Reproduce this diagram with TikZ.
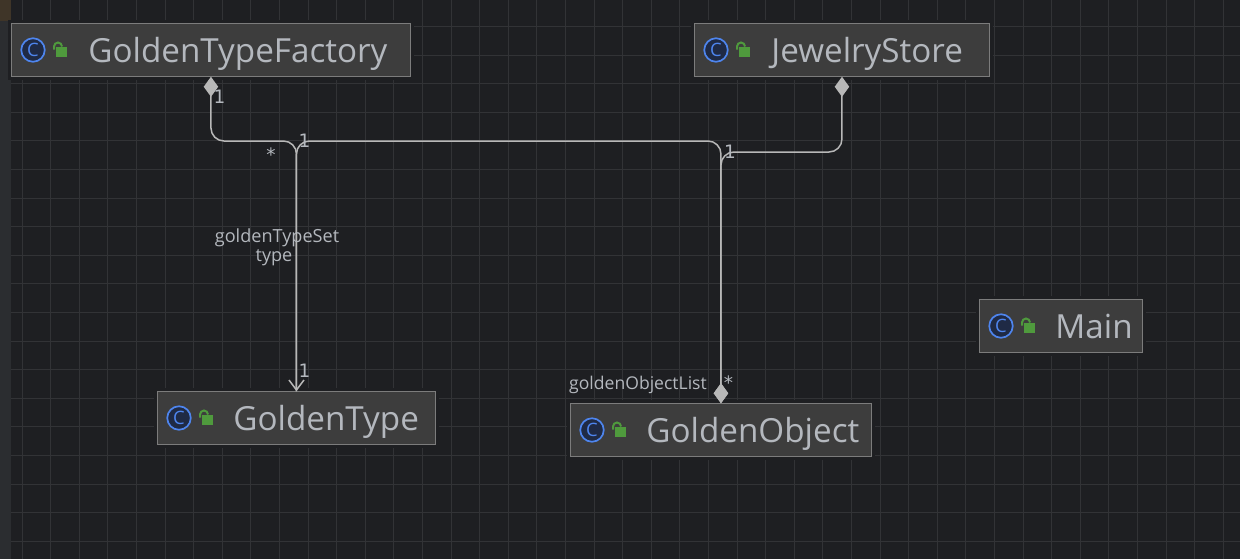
\documentclass[tikz,border=0pt]{standalone}
\usepackage{fontspec}
\setmainfont{Open Sans}
\newfontfamily\numfont{DejaVu Sans}
\usetikzlibrary{arrows.meta,calc}
\definecolor{canvasbg}{HTML}{1E1F22}
\definecolor{gridcol}{HTML}{323336}
\definecolor{stripcol}{HTML}{2B2D30}
\definecolor{cornercol}{HTML}{3F3528}
\definecolor{boxfill}{HTML}{3D3D3D}
\definecolor{boxline}{HTML}{7C7C7C}
\definecolor{namecol}{HTML}{B4B8BE}
\definecolor{linkcol}{HTML}{B8B8B8}
\definecolor{iconblue}{HTML}{4E85EE}
\definecolor{icondark}{HTML}{1F2A45}
\definecolor{lockgreen}{HTML}{4F9A3D}

\begin{document}
\begin{tikzpicture}[x=0.02cm,y=-0.02cm,
  classbox/.style={draw=boxline,fill=boxfill,line width=0.018cm,anchor=west,inner sep=0pt,outer sep=0pt,
    align=left,text=namecol,font=\fontsize{18.9pt}{22pt}\selectfont,text height=0.78cm,text depth=0.29cm,
    preaction={draw=canvasbg,line width=0.14cm}},
  link/.style={draw=linkcol,line width=0.03cm,rounded corners=0.26cm},
  tag/.style={text=namecol,font=\fontsize{10.3pt}{10.8pt}\selectfont,inner sep=0pt,align=center},
  num/.style={text=namecol,font=\numfont\fontsize{10.5pt}{12pt}\selectfont,inner sep=0pt},
  iconc/.style={circle,draw=iconblue,fill=icondark,line width=0.034cm,minimum size=0.47cm,inner sep=0pt,
    text=iconblue,font=\fontsize{10.5pt}{11pt}\selectfont},
  dia/.tip={Diamond[length=0.4cm,width=0.29cm,fill=linkcol]},
  >={Straight Barb[length=0.2cm,width=0.3cm]}]
  \useasboundingbox (0,0) rectangle (1240,559);
  \fill[canvasbg] (0,0) rectangle (1240,559);
  \fill[stripcol] (0,0) rectangle (11,559);
  \fill[cornercol] (0,0) rectangle (11,21);
  \foreach \i in {0,...,42} \draw[gridcol,line width=0.02cm] ({22+28.6*\i},0)--({22+28.6*\i},559);
  \foreach \j in {0,...,18} \draw[gridcol,line width=0.02cm] (11,{26.4+28.6*\j})--(1240,{26.4+28.6*\j});

  \node[classbox,text width=7.98cm] (factory) at (11.5,50) {\hspace*{1.54cm}GoldenTypeFactory};
  \node[classbox,text width=5.9cm] (store) at (694.5,50) {\hspace*{1.54cm}JewelryStore};
  \node[classbox,text width=5.56cm] (type) at (157.5,418) {\hspace*{1.52cm}GoldenType};
  \node[classbox,text width=6.02cm] (object) at (570.5,430) {\hspace*{1.52cm}GoldenObject};
  \node[classbox,text width=3.26cm] (mainclass) at (979.5,326) {\hspace*{1.52cm}Main};

  \foreach \n in {factory,store,type,object,mainclass}{
    \node[iconc] (\n icon) at ($(\n.west)+(21.5,0)$) {C};
    \fill[lockgreen] ($(\n.west)+(44.5,-3)$) rectangle ($(\n.west)+(55.5,6.5)$);
    \draw[lockgreen,line width=0.04cm] ($(\n.west)+(42.5,-0.5)$)--($(\n.west)+(42.5,-3.5)$) arc[start angle=180,end angle=0,radius=0.08cm];
  }

  \draw[link,{dia}->] (factory.south)--(factory.south |- 0,141)--(type.north |- 0,141)--(type.north);
  \draw[link,-{dia}] (type.north)--(type.north |- 0,141)--(object.north |- 0,141)--(object.north);
  \draw[link,{dia}-{dia}] (store.south)--(store.south |- 0,152)--(object.north |- 0,152)--(object.north);

  \node[num] (n1) at (219.5,97) {1};
  \node[num] (n2) at (271,155) {*};
  \node[num] (n3) at (304.5,141) {1};
  \node[num] (n4) at (304.5,371) {1};
  \node[num] (n5) at (730,151.5) {1};
  \node[num] (n6) at (728.5,383) {*};
  \node[tag] (typeset) at (277,247.5) {goldenTypeSet\\type\hspace*{0.12cm}};
  \node[tag,font=\fontsize{10pt}{10.8pt}\selectfont] (objlist) at (638,385) {goldenObjectList};
\end{tikzpicture}
\end{document}
